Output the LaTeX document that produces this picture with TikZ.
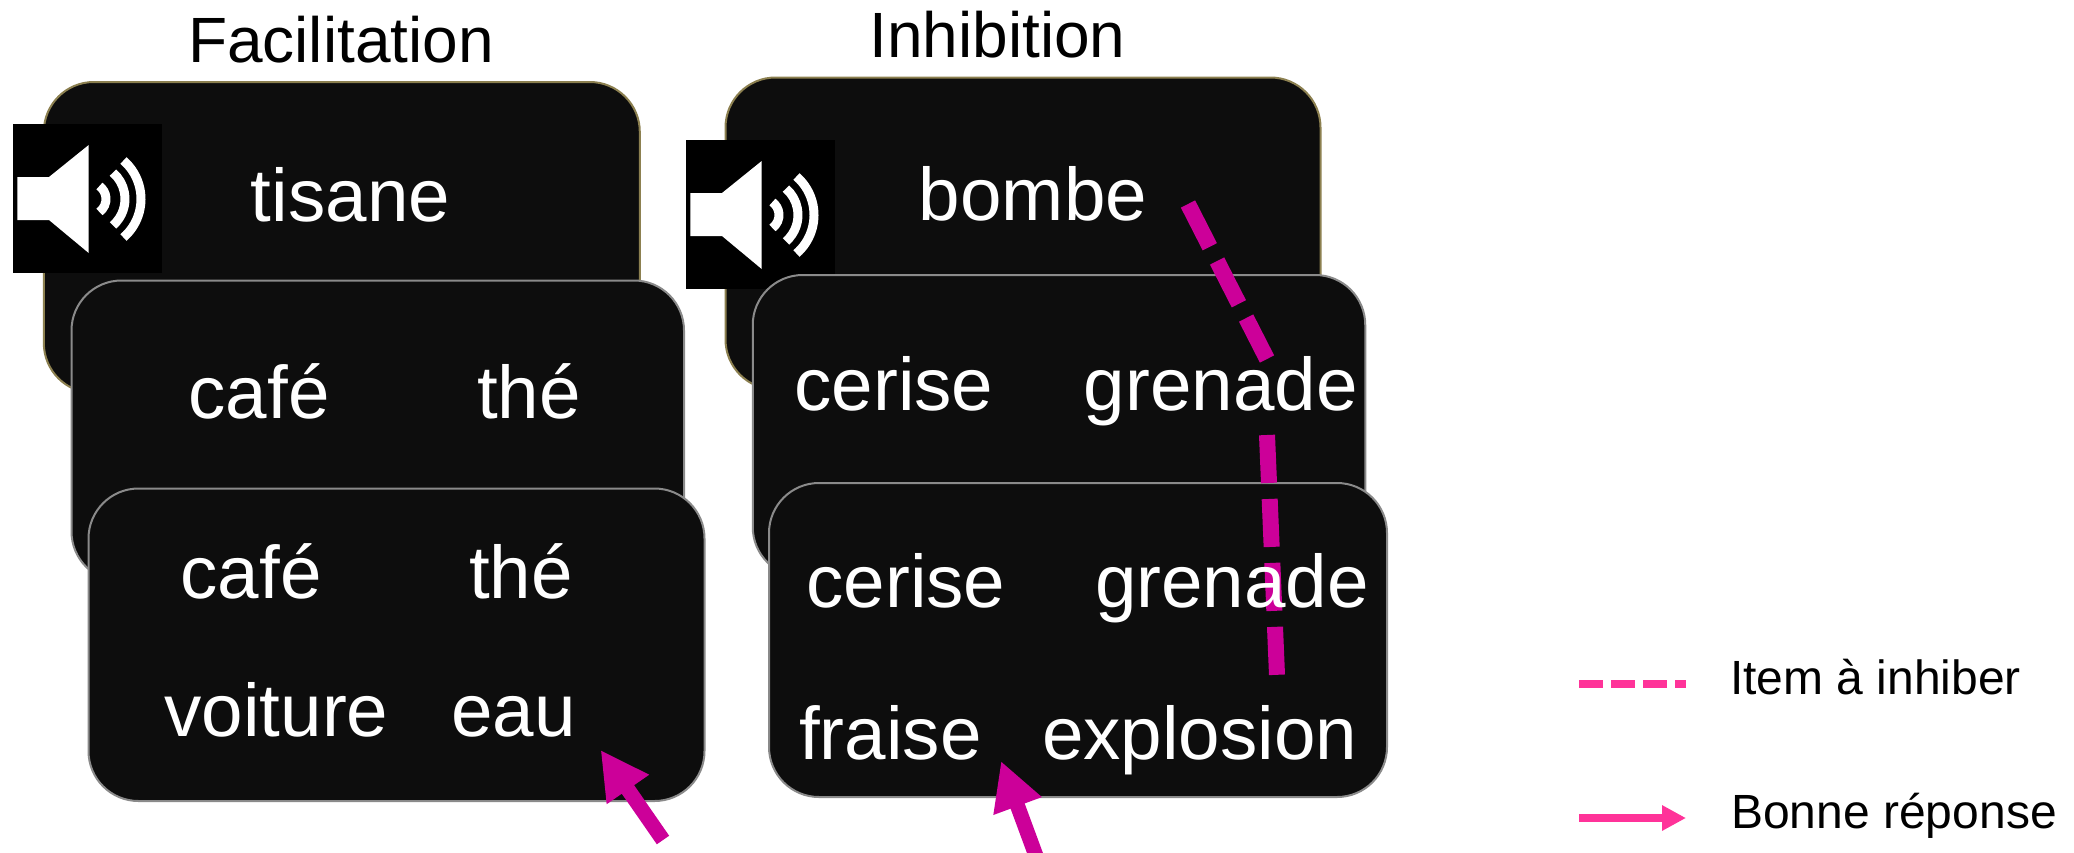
\documentclass[tikz,border=0pt]{standalone}
\usepackage{fontspec}
\setmainfont{Liberation Sans}
\usetikzlibrary{arrows.meta}
\definecolor{cardfill}{HTML}{0D0D0D}
\definecolor{goldedge}{HTML}{8C8050}
\definecolor{grayedge}{HTML}{8A8A8A}
\definecolor{mag}{HTML}{CC0099}
\definecolor{pinkleg}{HTML}{FF3399}
\tikzset{
  card/.style={draw=grayedge,fill=cardfill,line width=2pt,rounded corners=50pt,inner sep=0pt},
  goldcard/.style={card,draw=goldedge},
  word/.style={text=white,anchor=base,inner sep=0pt,font=\fontsize{74.6}{75}\selectfont},
  heading/.style={text=black,anchor=base,inner sep=0pt,font=\fontsize{64}{64}\selectfont},
  legendtext/.style={text=black,anchor=base west,inner sep=0pt,font=\fontsize{48}{48}\selectfont},
  inhib/.style={draw=mag,line width=16pt,dash pattern=on 48pt off 16pt},
  good/.style={draw=mag,line width=15pt,-{Triangle[length=48pt,width=48pt]}},
  speakerbg/.style={fill=black,draw=none,inner sep=0pt,minimum width=149pt,minimum height=149pt},
  wave/.style={draw=white,line width=9pt}
}
\newcommand{\speakericon}[3]{%
  \node[speakerbg] (#1) at (#2+74.5,#3+74.5) {};
  \fill[white] (#2+4.3,#3+53) -- (#2+36,#3+53) -- (#2+75.7,#3+21) -- (#2+75.7,#3+129) -- (#2+36,#3+96) -- (#2+4.3,#3+96) -- cycle;
  \draw[wave] (#2+77,#3+75) ++(-54:16pt) arc[start angle=-54,end angle=54,radius=16pt];
  \draw[wave] (#2+77,#3+75) ++(-49:35pt) arc[start angle=-49,end angle=49,radius=35pt];
  \draw[wave] (#2+77,#3+75) ++(-49:51pt) arc[start angle=-49,end angle=49,radius=51pt];
}
\begin{document}
\begin{tikzpicture}[x=1pt,y=-1pt]
\useasboundingbox (0,0) rectangle (2074,852);
\fill[white] (0,0) rectangle (2074,852);
% left column
\node[goldcard,minimum width=596pt,minimum height=311pt] (fa) at (341.8,237.5) {};
\speakericon{fs}{13}{124}
\node[card,minimum width=612.5pt,minimum height=301pt] (fb) at (377.75,431) {};
\node[card,minimum width=616pt,minimum height=312.5pt] (fc) at (396.5,644.75) {};
% right column
\node[goldcard,minimum width=595pt,minimum height=312pt] (ia) at (1023,233.5) {};
\speakericon{is}{686}{140}
\node[card,minimum width=612.5pt,minimum height=302pt] (ib) at (1059,426) {};
\node[card,minimum width=618pt,minimum height=314pt] (ic) at (1078,640) {};
% dashed marks
\coordinate (d1) at (1188,204);
\coordinate (d2) at (1267,359);
\coordinate (d3) at (1267,435);
\coordinate (d4) at (1277,675);
\draw[inhib] (d1) -- (d2);
\draw[inhib] (d3) -- (d4);
% headings
\node[heading] (h1) at (341,62) {Facilitation};
\node[heading] (h2) at (997.4,57) {Inhibition};
% words
\node[word] (w1) at (350.5,221) {tisane};
\node[word] (w2) at (259,418.5) {café};
\node[word] (w3) at (529,418.5) {thé};
\node[word] (w4) at (251,598.4) {café};
\node[word] (w5) at (521,598.4) {thé};
\node[word] (w6) at (276.5,736) {voiture};
\node[word] (w7) at (513.4,736) {eau};
\node[word] (w8) at (1033,220.4) {bombe};
\node[word] (w9) at (894,410.4) {cerise};
\node[word] (w10) at (1220.7,410.4) {grenade};
\node[word] (w11) at (906,607.4) {cerise};
\node[word] (w12) at (1232,607.4) {grenade};
\node[word] (w13) at (890.4,759) {fraise};
\node[word] (w14) at (1199.7,759) {explosion};
% arrows
\coordinate (a1s) at (663,840);
\coordinate (a1e) at (600.6,750);
\coordinate (a2s) at (1039,864);
\coordinate (a2e) at (1001,761);
\begin{scope}
\clip (0,0) rectangle (2074,852);
\draw[good] (a1s) -- (a1e);
\draw[good] (a2s) -- (a2e);
\end{scope}
% legend
\coordinate (l1a) at (1579,684);
\coordinate (l1b) at (1686,684);
\coordinate (l2a) at (1579,818);
\coordinate (l2b) at (1686,818);
\draw[draw=pinkleg,line width=8.5pt,dash pattern=on 24pt off 8pt] (l1a) -- (l1b);
\draw[draw=pinkleg,line width=8pt,-{Triangle[length=24pt,width=24pt]}] (l2a) -- (l2b);
\node[legendtext] (t1) at (1730,694) {Item à inhiber};
\node[legendtext] (t2) at (1731,828) {Bonne réponse};
\end{tikzpicture}
\end{document}
